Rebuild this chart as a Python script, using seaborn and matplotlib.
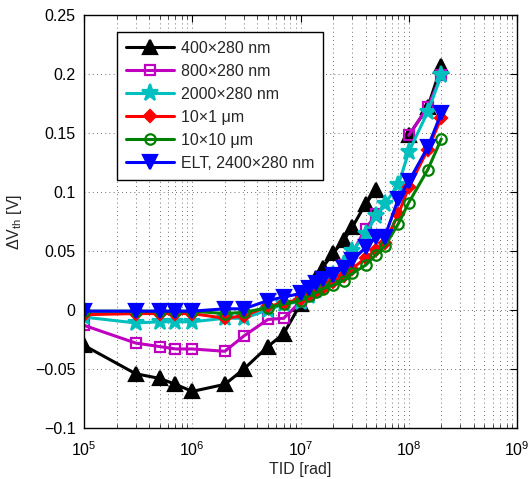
import numpy as np
import pandas as pd
import matplotlib
matplotlib.use("Agg")
import matplotlib.pyplot as plt
import matplotlib.ticker as mticker
import seaborn as sns

# ---------------- data ----------------
tid = [1e5, 3e5, 5e5, 7e5, 1e6, 2e6, 3e6, 5e6, 7e6,
       1e7, 1.2e7, 1.4e7, 1.6e7, 2e7, 2.5e7, 3e7, 4e7, 5e7, 6e7, 8e7,
       1e8, 1.5e8, 2e8]
nan = np.nan
dv_400x280 = [-0.030, -0.054, -0.058, -0.063, -0.069, -0.063, -0.050, -0.031, -0.020,
              0.005, 0.017, 0.027, 0.036, 0.048, 0.059, 0.070, 0.090, 0.102, nan, nan,
              0.148, 0.172, 0.207]
dv_800x280 = [-0.013, -0.028, -0.031, -0.033, -0.033, -0.035, -0.022, -0.008, -0.007,
              0.007, 0.013, 0.018, 0.022, 0.030, 0.038, 0.048, 0.069, 0.081, nan, nan,
              0.148, 0.172, 0.199]
dv_2000x280 = [-0.006, -0.011, -0.010, -0.010, -0.010, -0.007, -0.007, 0.000, 0.005,
               0.007, 0.012, 0.017, 0.021, 0.030, 0.039, 0.050, 0.064, 0.080, 0.090, 0.106,
               0.134, 0.168, 0.199]
dv_10x1 = [-0.004, -0.003, -0.003, -0.003, -0.003, -0.007, -0.005, 0.003, 0.006,
           0.009, 0.013, 0.016, 0.019, 0.024, 0.029, 0.035, 0.044, 0.051, 0.057, 0.081,
           0.104, 0.136, 0.163]
dv_10x10 = [-0.001, -0.001, -0.001, -0.001, -0.001, -0.003, -0.002, 0.002, 0.005,
            0.008, 0.012, 0.015, 0.018, 0.021, 0.025, 0.031, 0.038, 0.047, 0.054, 0.073,
            0.091, 0.119, 0.145]
dv_elt = [-0.001, -0.001, -0.001, -0.001, -0.001, 0.001, 0.001, 0.008, 0.011,
          0.014, 0.019, 0.023, 0.026, 0.030, 0.036, 0.042, 0.053, 0.062, 0.062, 0.094,
          0.109, 0.138, 0.167]

labels = ['400\u00d7280 nm', '800\u00d7280 nm', '2000\u00d7280 nm',
          '10\u00d71 \u03bcm', '10\u00d710 \u03bcm', 'ELT, 2400\u00d7280 nm']
series = [dv_400x280, dv_800x280, dv_2000x280, dv_10x1, dv_10x10, dv_elt]
colors = ['#000000', '#c000c0', '#00bfbf', '#ff0000', '#008000', '#0000ff']
markers = ['^', 's', '*', 'D', 'o', 'v']
msizes = [9.5, 7.5, 12.5, 6.5, 7.5, 9.5]
faces = ['fill', 'none', 'fill', 'fill', 'none', 'fill']

ytick_vals = [-0.1, -0.05, 0, 0.05, 0.1, 0.15, 0.2, 0.25]
ytick_labels = ['\u22120.1', '\u22120.05', '0', '0.05', '0.1', '0.15', '0.2', '0.25']
xtick_vals = [1e5, 1e6, 1e7, 1e8, 1e9]
xtick_labels = ['$10^{5}$', '$10^{6}$', '$10^{7}$', '$10^{8}$', '$10^{9}$']

# ---------------- style ----------------
sns.set_style('white')
plt.rcParams['font.family'] = ['Liberation Sans', 'DejaVu Sans']
plt.rcParams['mathtext.fontset'] = 'custom'
plt.rcParams['mathtext.rm'] = 'Liberation Sans'
plt.rcParams['mathtext.it'] = 'Liberation Sans:italic'
plt.rcParams['mathtext.bf'] = 'Liberation Sans:bold'
FS = 11.5

fig = plt.figure(figsize=(5.30, 4.79), dpi=100)
ax = fig.add_axes([84 / 530, 1 - 428 / 479, 433 / 530, 413 / 479])

for vals, lab, col, mk, ms, fc in zip(series, labels, colors, markers, msizes, faces):
    df = pd.DataFrame({'tid': tid, 'dv': vals})
    # split into contiguous segments (gaps = no measurement)
    seg_id = df['dv'].isna().cumsum()
    first = True
    for _, seg in df[df['dv'].notna()].groupby(seg_id[df['dv'].notna()]):
        sns.lineplot(data=seg, x='tid', y='dv', ax=ax, estimator=None, sort=False,
                     color=col, marker=mk, markersize=ms, linewidth=2.2,
                     markeredgecolor=col, markeredgewidth=1.6,
                     markerfacecolor=(col if fc == 'fill' else 'none'),
                     label=(lab if first else None), legend=False)
        first = False

ax.set_xscale('log')
ax.set_xlim(1e5, 1e9)
ax.set_ylim(-0.1, 0.25)
ax.set_yticks(ytick_vals)
ax.set_yticklabels(ytick_labels)
ax.set_xticks(xtick_vals)
ax.set_xticklabels(xtick_labels)
ax.xaxis.set_minor_locator(mticker.LogLocator(base=10, subs=np.arange(2, 10)))
ax.xaxis.set_minor_formatter(mticker.NullFormatter())

ax.tick_params(axis='both', which='major', direction='in', length=5, width=0.8,
               top=True, right=True, labelsize=FS, colors='k', pad=6)
ax.tick_params(axis='x', which='major', pad=9)
ax.tick_params(axis='x', which='minor', direction='in', length=3, width=0.6,
               top=True, bottom=True)

ax.grid(True, which='major', axis='both', color='k', linestyle=(0, (1, 4)), linewidth=0.6, alpha=0.75)
ax.grid(True, which='minor', axis='x', color='k', linestyle=(0, (1, 4)), linewidth=0.6, alpha=0.75)
ax.set_axisbelow(True)

for sp in ax.spines.values():
    sp.set_color('k')
    sp.set_linewidth(1.0)

ax.set_xlabel('TID [rad]', fontsize=FS, labelpad=2)
ax.set_ylabel('\u0394V$_{\\mathrm{th}}$ [V]', fontsize=FS, labelpad=8)

leg = ax.legend(loc='upper left', bbox_to_anchor=((117 - 84) / 433, (428 - 32) / 413),
                borderaxespad=0, fontsize=FS, handlelength=3.0, handletextpad=0.45,
                labelspacing=0.5, borderpad=0.55, fancybox=False, frameon=True,
                framealpha=1.0, edgecolor='k')
leg.get_frame().set_linewidth(1.0)

fig.savefig('out.png', dpi=100)
